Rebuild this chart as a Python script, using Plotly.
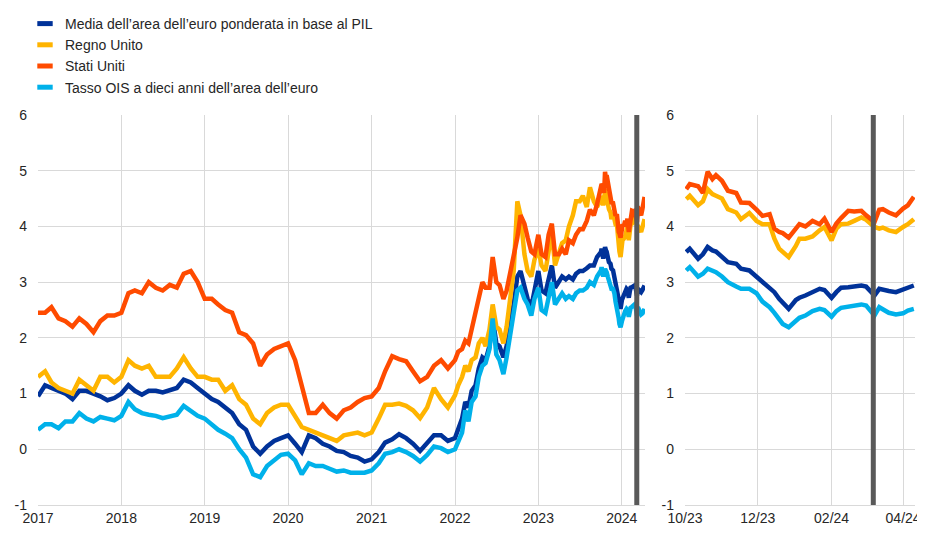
import plotly.graph_objects as go

# ---------------- data ----------------
# Left panel: monthly 2017-2021, semi-monthly 2022 - Sep 2023 (then the right-panel data)
left_dates = [f"{y}-{m:02d}-01" for y in range(2017, 2022) for m in range(1, 13)] + \
    [f"{y}-{m:02d}-{d}" for y, m in [(2022, mm) for mm in range(1, 13)] + [(2023, mm) for mm in range(1, 10)] for d in ("01", "15")]

ea_left = [
    0.95, 1.15, 1.10, 1.05, 1.00, 0.90, 1.05, 1.05, 1.00, 0.95, 0.88, 0.92,
    1.00, 1.15, 1.05, 0.98, 1.05, 1.05, 1.02, 1.05, 1.10, 1.25, 1.20, 1.10,
    1.00, 0.90, 0.85, 0.75, 0.65, 0.45, 0.35, 0.05, -0.08, 0.05, 0.15, 0.20,
    0.25, 0.10, -0.05, 0.25, 0.20, 0.10, 0.05, -0.03, -0.05, -0.12, -0.15, -0.22,
    -0.18, -0.05, 0.12, 0.18, 0.27, 0.20, 0.10, -0.03, 0.10, 0.25, 0.25, 0.15,
    0.20, 0.35, 0.55, 0.85, 0.75, 1.05, 1.15, 1.45, 1.65, 1.60, 1.85, 2.35,
    1.90, 1.85, 1.65, 1.85, 2.35, 2.60, 3.10, 3.20, 2.95, 2.70, 2.55, 2.90,
    3.20, 2.85, 2.80, 3.05, 3.30, 2.90, 3.00, 3.10, 3.05, 3.10, 3.05, 3.15,
    3.20, 3.20, 3.25, 3.30, 3.30, 3.45,
]
uk_left = [
    1.30, 1.40, 1.20, 1.10, 1.05, 1.00, 1.25, 1.15, 1.05, 1.30, 1.30, 1.20,
    1.30, 1.60, 1.50, 1.45, 1.50, 1.30, 1.30, 1.30, 1.45, 1.65, 1.45, 1.30,
    1.30, 1.25, 1.25, 1.05, 1.15, 0.90, 0.80, 0.55, 0.45, 0.65, 0.75, 0.80,
    0.80, 0.60, 0.40, 0.35, 0.30, 0.25, 0.20, 0.15, 0.25, 0.28, 0.30, 0.25,
    0.30, 0.55, 0.80, 0.80, 0.82, 0.78, 0.70, 0.56, 0.75, 1.10, 0.90, 0.75,
    0.97, 1.15, 1.30, 1.50, 1.40, 1.60, 1.65, 1.90, 2.00, 1.85, 2.15, 2.60,
    2.20, 2.15, 1.90, 2.20, 2.80, 3.20, 4.45, 4.20, 3.50, 3.20, 3.10, 3.40,
    3.60, 3.30, 3.20, 3.50, 3.90, 3.30, 3.50, 3.70, 3.75, 4.00, 4.20, 4.45,
    4.45, 4.55, 4.35, 4.70, 4.45, 4.35,
]
us_left = [
    2.45, 2.45, 2.55, 2.35, 2.30, 2.20, 2.35, 2.25, 2.10, 2.30, 2.40, 2.40,
    2.45, 2.80, 2.85, 2.80, 3.00, 2.90, 2.85, 2.95, 2.90, 3.15, 3.20, 3.00,
    2.70, 2.70, 2.60, 2.50, 2.45, 2.10, 2.05, 1.90, 1.50, 1.70, 1.80, 1.85,
    1.90, 1.60, 1.15, 0.65, 0.65, 0.80, 0.65, 0.55, 0.70, 0.75, 0.85, 0.92,
    0.95, 1.10, 1.40, 1.67, 1.62, 1.58, 1.40, 1.22, 1.30, 1.50, 1.60, 1.45,
    1.60, 1.75, 1.80, 1.95, 1.90, 2.15, 2.45, 2.75, 3.00, 2.90, 2.90, 3.45,
    3.00, 2.95, 2.70, 2.85, 3.20, 3.45, 3.80, 4.20, 4.05, 3.80, 3.55, 3.50,
    3.85, 3.50, 3.45, 3.85, 4.05, 3.50, 3.50, 3.60, 3.50, 3.75, 3.70, 3.85,
    3.95, 3.95, 4.10, 4.30, 4.20, 4.40,
]
ois_left = [
    0.35, 0.45, 0.45, 0.38, 0.50, 0.50, 0.65, 0.55, 0.50, 0.58, 0.55, 0.52,
    0.60, 0.85, 0.72, 0.65, 0.62, 0.60, 0.56, 0.58, 0.62, 0.78, 0.70, 0.60,
    0.55, 0.45, 0.35, 0.28, 0.20, 0.00, -0.15, -0.45, -0.50, -0.30, -0.20, -0.10,
    -0.08, -0.20, -0.45, -0.25, -0.30, -0.30, -0.35, -0.40, -0.38, -0.42, -0.42, -0.42,
    -0.38, -0.25, -0.08, -0.05, 0.00, -0.05, -0.12, -0.22, -0.10, 0.05, 0.02, -0.05,
    0.00, 0.15, 0.30, 0.70, 0.50, 0.85, 0.95, 1.30, 1.50, 1.55, 1.80, 2.35,
    1.70, 1.60, 1.35, 1.65, 2.15, 2.45, 2.85, 2.90, 2.70, 2.60, 2.40, 2.70,
    2.90, 2.50, 2.45, 2.75, 3.00, 2.60, 2.70, 2.80, 2.70, 2.75, 2.70, 2.80,
    2.85, 2.85, 2.90, 3.00, 2.95, 3.10,
]

# Right panel: Oct 2023 - Apr 2024
right_dates = [
    "2023-10-02", "2023-10-05", "2023-10-12", "2023-10-16", "2023-10-20", "2023-10-24", "2023-10-27",
    "2023-11-01", "2023-11-06", "2023-11-13", "2023-11-17", "2023-11-24", "2023-11-30",
    "2023-12-05", "2023-12-11", "2023-12-15", "2023-12-19", "2023-12-22", "2023-12-27",
    "2024-01-02", "2024-01-05", "2024-01-10", "2024-01-16", "2024-01-22", "2024-01-26",
    "2024-02-01", "2024-02-05", "2024-02-09", "2024-02-15", "2024-02-20", "2024-02-26",
    "2024-03-01", "2024-03-08", "2024-03-12", "2024-03-15", "2024-03-20", "2024-03-26",
    "2024-04-01", "2024-04-05", "2024-04-10",
]
us_right = [4.67, 4.76, 4.72, 4.60, 4.98, 4.85, 4.92, 4.82, 4.64, 4.60, 4.43, 4.42, 4.30,
            4.19, 4.22, 3.96, 3.90, 3.88, 3.80, 3.95, 4.04, 4.00, 4.10, 4.04, 4.14,
            3.90, 4.05, 4.15, 4.28, 4.27, 4.28, 4.20, 4.08, 4.30, 4.31, 4.25, 4.20,
            4.32, 4.38, 4.53]
uk_right = [4.49, 4.55, 4.38, 4.45, 4.67, 4.58, 4.55, 4.50, 4.31, 4.25, 4.13, 4.24, 4.10,
            4.04, 4.04, 3.78, 3.60, 3.55, 3.45, 3.65, 3.78, 3.78, 3.82, 3.93, 3.99,
            3.75, 3.96, 4.04, 4.05, 4.10, 4.16, 4.12, 3.99, 3.96, 3.98, 3.93, 3.90,
            3.99, 4.04, 4.13]
ea_right = [3.54, 3.60, 3.42, 3.50, 3.63, 3.57, 3.55, 3.45, 3.36, 3.33, 3.24, 3.21, 3.10,
            3.00, 2.88, 2.82, 2.70, 2.64, 2.52, 2.68, 2.72, 2.76, 2.82, 2.88, 2.86,
            2.72, 2.82, 2.90, 2.91, 2.93, 2.94, 2.92, 2.76, 2.88, 2.86, 2.84, 2.82,
            2.86, 2.90, 2.94]
ois_right = [3.21, 3.27, 3.10, 3.15, 3.24, 3.20, 3.18, 3.10, 3.00, 2.92, 2.88, 2.88, 2.80,
             2.65, 2.55, 2.45, 2.35, 2.25, 2.19, 2.30, 2.36, 2.40, 2.48, 2.52, 2.50,
             2.38, 2.48, 2.54, 2.56, 2.58, 2.60, 2.58, 2.40, 2.55, 2.52, 2.45, 2.42,
             2.44, 2.49, 2.52]

series_names = [
    "Media dell’area dell’euro ponderata in base al PIL",
    "Regno Unito",
    "Stati Uniti",
    "Tasso OIS a dieci anni dell’area dell’euro",
]
series_colors = ["#003299", "#FFB400", "#FF4B00", "#00B1EA"]
event_date = "2024-03-07"
y_ticks = [6, 5, 4, 3, 2, 1, 0, -1]

# ---------------- figure ----------------
fig = go.Figure()
lefts = [ea_left, uk_left, us_left, ois_left]
rights = [ea_right, uk_right, us_right, ois_right]

for name, col, lv, rv in zip(series_names, series_colors, lefts, rights):
    fig.add_trace(go.Scatter(x=left_dates + right_dates, y=lv + rv, mode="lines",
                             line=dict(color=col, width=4.5), showlegend=False,
                             xaxis="x", yaxis="y", hoverinfo="skip"))
    fig.add_trace(go.Scatter(x=right_dates, y=rv, mode="lines",
                             line=dict(color=col, width=4.5), showlegend=False,
                             xaxis="x2", yaxis="y2", hoverinfo="skip"))

for name, col in zip(series_names, series_colors):
    fig.add_trace(go.Scatter(x=[None], y=[None], mode="markers", name=name,
                             marker=dict(symbol="line-ew-open", size=11, color=col,
                                         line=dict(width=5, color=col)),
                             xaxis="x", yaxis="y"))

grid = "#d9d9d9"
font = dict(family="Liberation Sans, Arial, sans-serif", size=14, color="#262626")
# page has an 8px body margin -> figure is offset by 8px
W, H = 917, 517
L, R, T, B = 30, 10, 107, 20
pw = W - L - R
left_end = (637 - L) / pw
right_start = (677 - L) / pw

common_y = dict(range=[-1, 6], tickvals=y_ticks, ticktext=[str(v) for v in y_ticks],
                showgrid=True, gridcolor=grid, gridwidth=1, zeroline=False,
                showline=False, ticks="", ticklabelstandoff=10, tickfont=font)
common_x = dict(showgrid=True, gridcolor=grid, gridwidth=1, zeroline=False,
                showline=True, linecolor=grid, linewidth=1, ticks="", tickfont=font,
                ticklabeloverflow="allow")

fig.update_layout(
    width=W, height=H,
    margin=dict(l=L, r=R, t=T, b=B, autoexpand=False),
    paper_bgcolor="white", plot_bgcolor="white",
    font=font,
    xaxis=dict(domain=[0, left_end], range=["2017-01-01", "2024-04-12"],
               tick0="2017-01-01", dtick="M12", tickformat="%Y", anchor="y", **common_x),
    yaxis=dict(domain=[0, 1], anchor="x", **common_y),
    xaxis2=dict(domain=[right_start, 1], range=["2023-10-01", "2024-04-11"],
                tick0="2023-10-01", dtick="M2", tickformat="%m/%y", anchor="y2", **common_x),
    yaxis2=dict(domain=[0, 1], anchor="x2", **common_y),
    legend=dict(xref="container", yref="container", x=17 / W, y=1 + 2 / H,
                xanchor="left", yanchor="top", font=font, tracegroupgap=0,
                bgcolor="rgba(0,0,0,0)", itemclick=False),
    showlegend=True,
    shapes=[
        dict(type="line", xref="x", yref="y domain", x0=event_date, x1=event_date,
             y0=0, y1=1, line=dict(color="#595959", width=5)),
        dict(type="line", xref="x2", yref="y2 domain", x0=event_date, x1=event_date,
             y0=0, y1=1, line=dict(color="#595959", width=5)),
    ],
)

fig.write_html("out.html")
